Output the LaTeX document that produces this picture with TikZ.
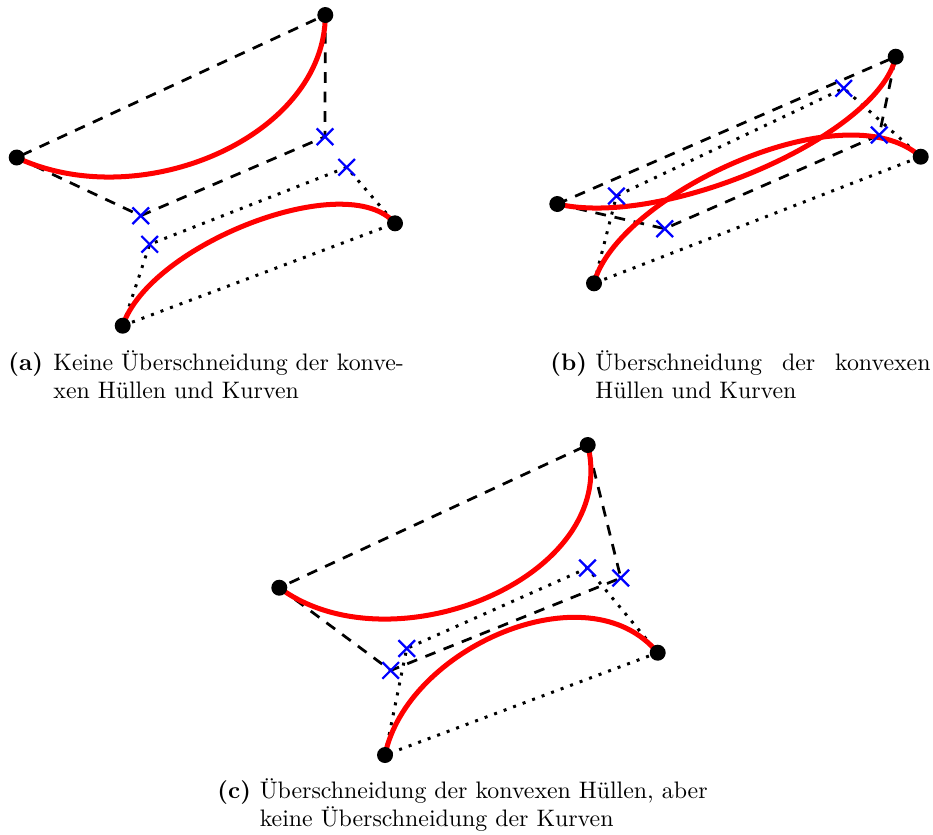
\documentclass[tikz,border=0pt]{standalone}
\usetikzlibrary{shapes.misc}
\pgfdeclarelayer{back}
\pgfsetlayers{back,main}
\begin{document}
\begin{tikzpicture}[x=0.419pt,y=-0.419pt,
  hullA/.style={black, line width=1.15pt, dash pattern=on 4.5pt off 3.7pt},
  hullB/.style={black, line width=1.25pt, dash pattern=on 1.25pt off 3pt},
  bez/.style={red, line width=2.1pt},
  endpt/.style={circle, fill=black, inner sep=0pt, minimum size=6.7pt},
  ctrl/.style={cross out, draw=blue, line width=0.95pt, minimum size=6pt, inner sep=0pt},
  captext/.style={anchor=base west, inner sep=0pt, font=\fontsize{10}{12}\selectfont},
  caplabel/.style={captext, font=\fontsize{10}{12}\selectfont\bfseries}]
\useasboundingbox (0,0) rectangle (933,834);

% ---------- (a) ----------
\node[endpt] (a1) at (16.7,157.5) {};
\node[ctrl]  (a2) at (140.7,215.7) {};
\node[ctrl]  (a3) at (325,136.7) {};
\node[endpt] (a4) at (325.3,15) {};
\node[endpt] (b1) at (122.7,325.7) {};
\node[ctrl]  (b2) at (149.7,244.3) {};
\node[ctrl]  (b3) at (346.7,167.3) {};
\node[endpt] (b4) at (395,223.3) {};

% ---------- (b) ----------
\node[endpt] (c1) at (557.3,204) {};
\node[ctrl]  (c2) at (664.7,228.7) {};
\node[ctrl]  (c3) at (879.2,135) {};
\node[endpt] (c4) at (895.7,56.7) {};
\node[endpt] (d1) at (594,283.3) {};
\node[ctrl]  (d2) at (616.4,196) {};
\node[ctrl]  (d3) at (843.7,88.3) {};
\node[endpt] (d4) at (920.7,156.7) {};

% ---------- (c) ----------
\node[endpt] (e1) at (279.3,587.7) {};
\node[ctrl]  (e2) at (390.7,670.4) {};
\node[ctrl]  (e3) at (620.8,578) {};
\node[endpt] (e4) at (587.7,445) {};
\node[endpt] (f1) at (385,755) {};
\node[ctrl]  (f2) at (406.7,648.5) {};
\node[ctrl]  (f3) at (587.5,568) {};
\node[endpt] (f4) at (657.7,652.7) {};

\begin{pgfonlayer}{back}
  % hulls
  \draw[hullA] (a1.center) -- (a2.center) -- (a3.center) -- (a4.center) -- cycle;
  \draw[hullB] (b1.center) -- (b2.center) -- (b3.center) -- (b4.center) -- cycle;
  \draw[hullA] (c1.center) -- (c2.center) -- (c3.center) -- (c4.center) -- cycle;
  \draw[hullB] (d1.center) -- (d2.center) -- (d3.center) -- (d4.center) -- cycle;
  \draw[hullA] (e1.center) -- (e2.center) -- (e3.center) -- (e4.center) -- cycle;
  \draw[hullB] (f1.center) -- (f2.center) -- (f3.center) -- (f4.center) -- cycle;
  % curves
  \draw[bez] (a1.center) .. controls (a2.center) and (a3.center) .. (a4.center);
  \draw[bez] (b1.center) .. controls (b2.center) and (b3.center) .. (b4.center);
  \draw[bez] (c1.center) .. controls (c2.center) and (c3.center) .. (c4.center);
  \draw[bez] (d1.center) .. controls (d2.center) and (d3.center) .. (d4.center);
  \draw[bez] (e1.center) .. controls (e2.center) and (e3.center) .. (e4.center);
  \draw[bez] (f1.center) .. controls (f2.center) and (f3.center) .. (f4.center);
\end{pgfonlayer}

% ---------- captions ----------
\node[caplabel] (la) at (8,370) {(a)};
\node[captext] (ta1) at (53,370) {Keine Überschneidung der konve-};
\node[captext] (ta2) at (53,398.6) {xen Hüllen und Kurven};

\node[caplabel] (lb) at (550,370) {(b)};
\node[captext] (tb1) at (595,370) {\makebox[140.4pt][s]{Überschneidung der konvexen}};
\node[captext] (tb2) at (595,398.6) {Hüllen und Kurven};

\node[caplabel] (lc) at (217,798.3) {(c)};
\node[captext] (tc1) at (259.3,798.3) {Überschneidung der konvexen Hüllen, aber};
\node[captext] (tc2) at (259.3,826.9) {keine Überschneidung der Kurven};
\end{tikzpicture}
\end{document}
